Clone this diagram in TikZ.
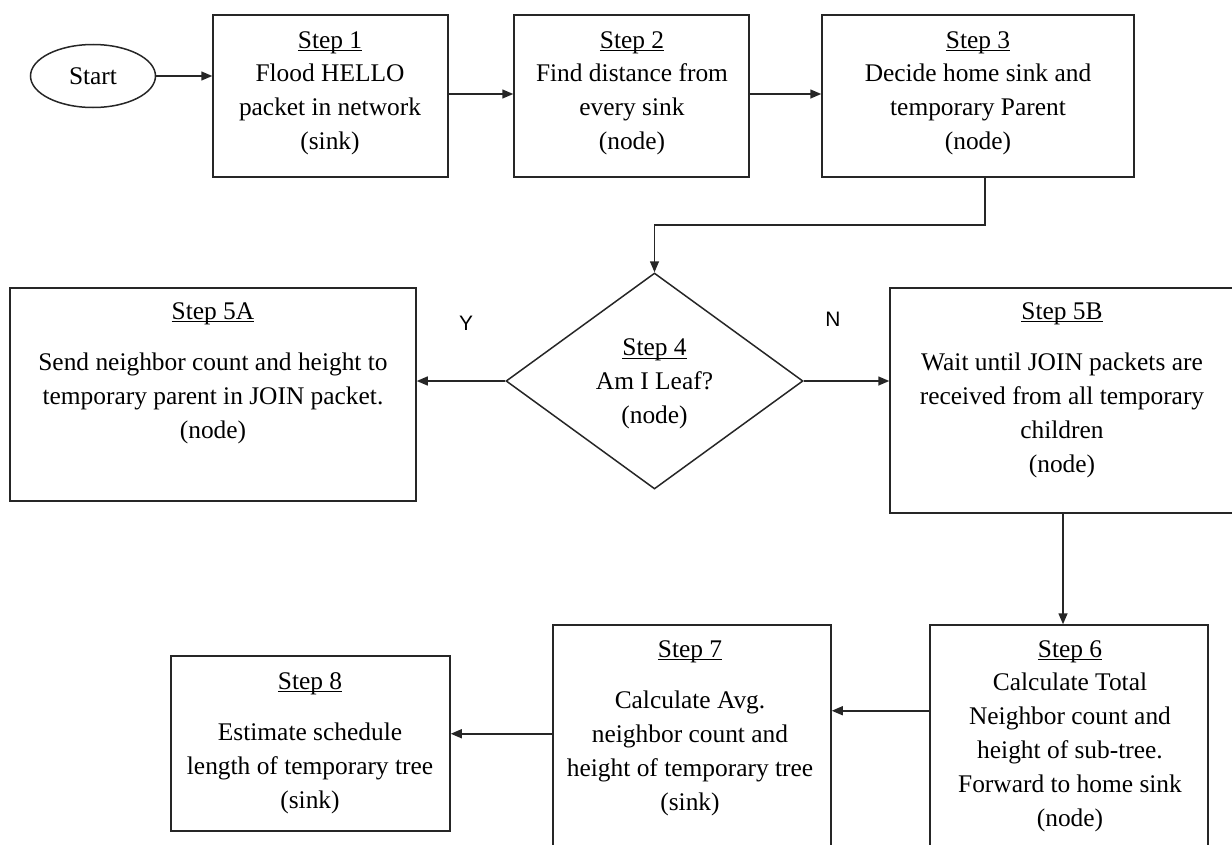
\documentclass[tikz,border=0pt]{standalone}
\usepackage{fontspec}
\setmainfont{Liberation Serif}
\newfontfamily\labelfont{Liberation Sans}
\usetikzlibrary{arrows.meta,shapes.geometric}

% underlined step title, rule set just under the baseline
\newcommand{\stepttl}[1]{\setbox0\hbox{#1}\rlap{\rule[-3pt]{\wd0}{1pt}}\box0}

\tikzset{
  line/.style={draw=black!85, line width=1.5bp},
  arr/.style={line, -{Triangle[length=11bp,width=9bp]}},
  stepbox/.style={line, rectangle, inner sep=0pt},
  steptext/.style={anchor=north, inner sep=0pt, align=center,
    font=\fontsize{25.5}{34}\selectfont},
  yn/.style={inner sep=0pt, font=\labelfont\fontsize{21}{21}\selectfont},
}

\begin{document}
\begin{tikzpicture}[x=1bp, y=-1bp]
\useasboundingbox (0,0) rectangle (1232,845);
\clip (0,0) rectangle (1232,845);

% start terminal
\node[line, ellipse, minimum width=125bp, minimum height=63bp, inner sep=0pt,
      font=\fontsize{25.5}{34}\selectfont] (start) at (93,76) {Start};

% top row
\node[stepbox, minimum width=235bp, minimum height=162bp] (s1) at (330.5,96) {};
\node[steptext] (s1t) at (330,31) {\stepttl{Step 1}\\Flood HELLO\\packet in network\\(sink)};

\node[stepbox, minimum width=235bp, minimum height=162bp] (s2) at (631.5,96) {};
\node[steptext] (s2t) at (632,31) {\stepttl{Step 2}\\Find distance from\\every sink\\(node)};

\node[stepbox, minimum width=312bp, minimum height=162bp] (s3) at (978,96) {};
\node[steptext] (s3t) at (978,31) {\stepttl{Step 3}\\Decide home sink and\\temporary Parent\\(node)};

% decision
\node[line, diamond, minimum width=297bp, minimum height=216bp, inner sep=0pt,
      align=center, font=\fontsize{25.5}{34}\selectfont] (dec) at (654.5,381)
      {\rule{0pt}{23pt}\stepttl{Step 4}\\Am I Leaf?\\(node)};

% middle row
\node[stepbox, minimum width=406bp, minimum height=213bp] (a5) at (213,394.5) {};
\node[steptext] (a5t) at (213,302) {\stepttl{Step 5A}\\[18pt]Send neighbor count and height to\\temporary parent in JOIN packet.\\(node)};

\node[stepbox, minimum width=350bp, minimum height=225bp] (b5) at (1065,400.5) {};
\node[steptext] (b5t) at (1062,302) {\stepttl{Step 5B}\\[18pt]Wait until JOIN packets are\\received from all temporary\\children\\(node)};

\node[yn] (ylab) at (466,323) {Y};
\node[yn] (nlab) at (833,319) {N};

% bottom row
\node[stepbox, minimum width=278bp, minimum height=245bp] (s6) at (1069,747.5) {};
\node[steptext] (s6t) at (1070,640) {\stepttl{Step 6}\\Calculate Total\\Neighbor count and\\height of sub-tree.\\Forward to home sink\\(node)};

\node[stepbox, minimum width=278bp, minimum height=245bp] (s7) at (692,747.5) {};
\node[steptext] (s7t) at (690,640) {\stepttl{Step 7}\\[18pt]Calculate Avg.\\neighbor count and\\height of temporary tree\\(sink)};

\node[stepbox, minimum width=279bp, minimum height=175bp] (s8) at (310.5,743.5) {};
\node[steptext] (s8t) at (310,672) {\stepttl{Step 8}\\[18pt]Estimate schedule\\length of temporary tree\\(sink)};

% connectors
\draw[arr] (start.east) -- (start.east -| s1.west);
\draw[arr] ([yshift=2bp]s1.east) -- ([yshift=2bp]s1.east -| s2.west);
\draw[arr] ([yshift=2bp]s2.east) -- ([yshift=2bp]s2.east -| s3.west);
\draw[arr] ([xshift=7bp]s3.south) -- ++(0,47) -| (dec.north);
\draw[arr] (dec.west) -- (dec.west -| a5.east);
\draw[arr] (dec.east) -- (dec.east -| b5.west);
\draw[arr] ([xshift=-2bp]b5.south) -- ([xshift=-2bp]b5.south |- s6.north);
\draw[arr] ([yshift=-86.5bp]s6.north west) -- ([yshift=-86.5bp]s6.north west -| s7.east);
\draw[arr] ([yshift=-109.5bp]s7.north west) -- ([yshift=-109.5bp]s7.north west -| s8.east);
\end{tikzpicture}
\end{document}
